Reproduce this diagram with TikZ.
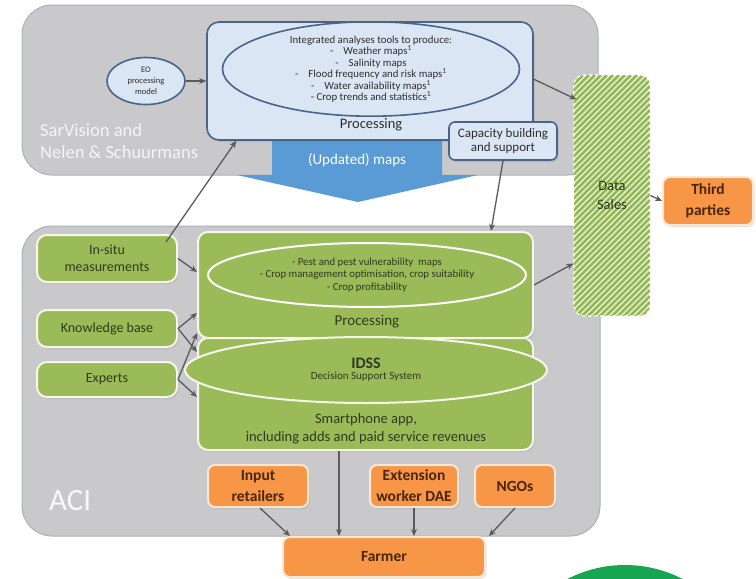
\documentclass[tikz,border=0pt]{standalone}
\usepackage{fontspec}
\setmainfont{Carlito}
\usetikzlibrary{arrows.meta,shapes.geometric,calc,shadows}
\definecolor{graybg}{HTML}{C9C9CB}
\definecolor{grayedge}{HTML}{A9B0BC}
\definecolor{bluefill}{HTML}{DAE6F4}
\definecolor{blueedge}{HTML}{4A6489}
\definecolor{bigarrow}{HTML}{5B9BD5}
\definecolor{greenfill}{HTML}{9BBB59}
\definecolor{greenedge}{HTML}{F4F7EA}
\definecolor{orangefill}{HTML}{F79646}
\definecolor{orangeedge}{HTML}{FCE6D4}
\definecolor{arrowgray}{HTML}{5A5A5A}
\definecolor{hatchgreen}{HTML}{8FB84E}
\definecolor{hatchbg}{HTML}{F2F7E8}
\definecolor{darktext}{HTML}{2E2E2E}
\definecolor{greentext}{HTML}{2F3A1C}
\definecolor{orangetext}{HTML}{4A2508}
\definecolor{circlegreen}{HTML}{17A552}
\begin{document}
\begin{tikzpicture}[x=1pt,y=-1pt,
  softshadow/.style={drop shadow={opacity=0.22, shadow xshift=1.5pt, shadow yshift=-2pt}},
  region/.style={fill=graybg, draw=grayedge, line width=1pt, rounded corners=30pt, inner sep=0pt},
  bluebox/.style={fill=bluefill, draw=blueedge, line width=1.6pt, rounded corners=12pt, inner sep=0pt, text=darktext},
  blueell/.style={ellipse, draw=blueedge, line width=1.6pt, inner sep=0pt, text=darktext},
  greenbox/.style={fill=greenfill, draw=greenedge, line width=2pt, rounded corners=10pt, inner sep=0pt, text=greentext},
  greenell/.style={ellipse, fill=greenfill, draw=greenedge, line width=2pt, inner sep=0pt, text=greentext},
  orangebox/.style={fill=orangefill, draw=orangeedge, line width=2pt, rounded corners=7pt, inner sep=0pt, text=orangetext, font=\fontsize{15.5}{21}\selectfont\bfseries, align=center, softshadow},
  leftbox/.style={greenbox, softshadow, minimum width=140pt, font=\fontsize{14}{17}\selectfont, align=center},
  arr/.style={draw=arrowgray, line width=1.3pt, -{Stealth[length=7pt,width=6pt]}},
  plain/.style={inner sep=0pt, align=center}]
\useasboundingbox (0,0) rectangle (756,579);
\clip (0,0) rectangle (756,579);
\fill[white] (0,0) rectangle (756,579);
\fill[circlegreen] (625,690) circle (125);

% regions
\node[region, minimum width=576pt, minimum height=170pt] (sar) at (310,90) {};
\node[region, minimum width=578pt, minimum height=310pt] (aci) at (311,381) {};
\node[plain, anchor=west, align=left, text=white!92!gray, font=\fontsize{18.5}{22}\selectfont] (sarlabel) at (40,141) {SarVision and\\Nelen \& Schuurmans};
\node[plain, anchor=base west, text=white!95!gray, font=\fontsize{31}{31}\selectfont] (acilabel) at (49,510) {ACI};

% big arrow
\fill[bigarrow] (272,130) -- (442,130) -- (442,175) -- (478,175) -- (358,202) -- (237,175) -- (272,175) -- cycle;
\node[plain, text=white, font=\fontsize{15}{15}\selectfont] (maps) at (357,160) {(Updated) maps};

% blue processing
\node[bluebox, softshadow, minimum width=326pt, minimum height=118pt] (bproc) at (370,81) {};
\node[blueell, minimum width=297pt, minimum height=83pt, font=\fontsize{10.8}{11.5}\selectfont, align=center] (bell) at (371,69)
  {Integrated analyses tools to produce:\\
   -\hspace{10pt}Weather maps\textsuperscript{1}\\
   -\hspace{10pt}Salinity maps\\
   -\hspace{10pt}Flood frequency and risk maps\textsuperscript{1}\\
   -\hspace{10pt}Water availability maps\textsuperscript{1}\\
   - Crop trends and statistics\textsuperscript{1}};
\node[plain, text=darktext, font=\fontsize{14.5}{14.5}\selectfont] (bproclabel) at (371,125) {Processing};
\node[bluebox, softshadow, rounded corners=6pt, minimum width=108pt, minimum height=38pt, font=\fontsize{13}{14}\selectfont, align=center] (cap) at (503,141) {Capacity building\\and support};
\node[blueell, fill=bluefill, minimum width=78pt, minimum height=47pt, font=\fontsize{8.5}{11}\selectfont, align=center] (eo) at (146,81) {EO\\processing\\model};

% data sales
\begin{scope}
  \clip[rounded corners=10pt] (574,75) rectangle (650,316);
  \fill[hatchbg] (574,75) rectangle (650,316);
  \foreach \i in {320,326,...,656} \draw[hatchgreen, line width=2.8pt] (\i,320) -- ({\i+250},70);
\end{scope}
\node[draw=white, dashed, line width=1.2pt, rounded corners=10pt, minimum width=76pt, minimum height=241pt, inner sep=0pt, text=greentext, font=\fontsize{14.5}{19}\selectfont, align=center] (datasales) at (612,195.5) {Data\\Sales};
\node[orangebox, minimum width=90pt, minimum height=48pt] (third) at (708,201) {Third\\parties};

% green processing
\node[greenbox, softshadow, minimum width=335pt, minimum height=112pt] (app) at (365.5,394) {};
\node[plain, text=greentext, font=\fontsize{14.5}{18}\selectfont] (applabel) at (366,429) {Smartphone app,\\including adds and paid service revenues};
\node[greenbox, softshadow, minimum width=335pt, minimum height=106pt] (gproc) at (365.5,285) {};
\node[greenell, draw=white, minimum width=318pt, minimum height=64pt, font=\fontsize{10.8}{12.5}\selectfont, align=center] (gell) at (367,275)
  {- Pest and pest vulnerability\ \ maps\\- Crop management optimisation, crop suitability\\- Crop profitability};
\node[plain, text=greentext, font=\fontsize{15}{15}\selectfont] (gproclabel) at (367,322) {Processing};
\node[greenell, minimum width=362pt, minimum height=66pt, align=center] (idss) at (366,370)
  {{\fontsize{16}{18}\selectfont\bfseries IDSS}\\[-1pt]{\fontsize{11}{12}\selectfont Decision Support System}};

% left boxes
\node[leftbox, minimum height=47pt] (insitu) at (107,258.5) {In-situ\\measurements};
\node[leftbox, minimum height=37pt] (kb) at (107,328.5) {Knowledge base};
\node[leftbox, minimum height=35pt] (experts) at (107,379.5) {Experts};

% orange
\node[orangebox, minimum width=100pt, minimum height=42pt] (input) at (258,486) {Input\\retailers};
\node[orangebox, minimum width=88pt, minimum height=42pt] (ext) at (414,486) {Extension\\worker DAE};
\node[orangebox, minimum width=80pt, minimum height=42pt] (ngo) at (515,486) {NGOs};
\node[orangebox, minimum width=202pt, minimum height=40pt] (farmer) at (384,557) {Farmer};

% connectors
\draw[arr] (eo.east) -- (eo.east -| bproc.west);
\draw[arr] ($(insitu.north east)+(-12,8)$) -- ($(bproc.south west)+(30,0)$);
\draw[arr] (insitu.east) -- ($(gproc.west)+(0,-13)$);
\draw[arr] (kb.east) -- ($(gproc.south west)+(0,-26)$);
\draw[arr] (kb.east) -- ($(app.north west)+(0,15)$);
\draw[arr] (experts.east) -- ($(gproc.south west)+(0,-6)$);
\draw[arr] (experts.east) -- ($(app.north west)+(0,60)$);
\draw[arr] ($(bproc.north east)+(0,58)$) -- ($(datasales.north west)+(3,25)$);
\draw[arr] (cap.south) -- ($(gproc.north east)+(-43,0)$);
\draw[arr] (gproc.east) -- ($(datasales.west)+(0,68)$);
\draw[arr] (datasales.east) -- (third.west);
\draw[arr] ($(app.south)+(-26.5,0)$) coordinate (appout) -- (appout |- farmer.north);
\draw[arr] (ext.south) -- (ext.south |- farmer.north);
\draw[arr] ($(input.south)+(2,0)$) -- ($(farmer.north west)+(8,0)$);
\draw[arr] (ngo.south) -- ($(farmer.north east)+(3,0)$);
\end{tikzpicture}
\end{document}
